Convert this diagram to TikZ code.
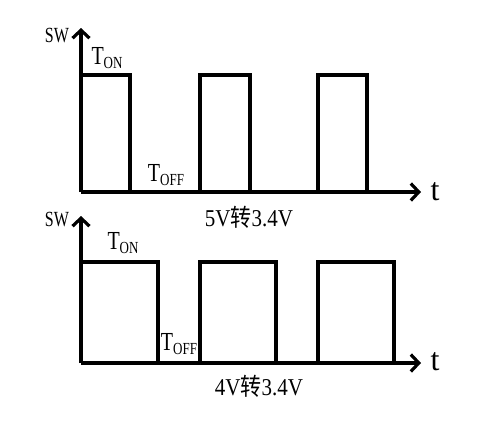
\documentclass[tikz,border=0pt]{standalone}
\usepackage{fontspec}
\setmainfont{Liberation Serif}
\newfontfamily\cjk{Noto Sans CJK SC}
\usetikzlibrary{arrows.meta}
\newcommand{\tall}[2][1.3]{\scalebox{1}[#1]{#2}}
\newcommand{\tlab}[1]{\tall{{\fontsize{20}{20}\selectfont T}{\fontsize{13}{13}\selectfont\raisebox{-3pt}{#1}}}}
\begin{document}
\begin{tikzpicture}[x=1pt,y=-1pt,
  wave/.style={line width=3.4pt,line join=miter},
  axis/.style={line width=3.4pt,-{Straight Barb[length=8pt,width=17pt,line width=3.2pt]}},
  lab/.style={inner sep=0pt},
  captxt/.style={inner sep=0pt,font=\fontsize{21}{22}\selectfont}]
  \useasboundingbox (0,0) rectangle (493,421);
  % arriba: 5V -> 3.4V
  \draw[wave] (81,75) -- (130,75) -- (130,192);
  \draw[wave] (200,192) -- (200,75) -- (250,75) -- (250,192);
  \draw[wave] (318,192) -- (318,75) -- (367,75) -- (367,192);
  \draw[axis] (81,192) -- (81,28);
  \draw[axis] (81,192) -- (421,192);
  \node[lab,font=\fontsize{16}{16}\selectfont] (sw1) at (57,36) {\tall[1.35]{SW}};
  \node[lab] (ton1) at (107,58) {\tlab{ON}};
  \node[lab] (toff1) at (166,175) {\tlab{OFF}};
  \node[lab,font=\fontsize{32}{32}\selectfont] (t1) at (435,192) {t};
  \node[captxt] (cap1) at (249,217) {\tall[1.15]{5V{\cjk 转}3.4V}};
  % abajo: 4V -> 3.4V
  \draw[wave] (81,262) -- (158,262) -- (158,363);
  \draw[wave] (200,363) -- (200,262) -- (276,262) -- (276,363);
  \draw[wave] (318,363) -- (318,262) -- (394,262) -- (394,363);
  \draw[axis] (81,363) -- (81,216);
  \draw[axis] (81,363) -- (421,363);
  \node[lab,font=\fontsize{16}{16}\selectfont] (sw2) at (57,220) {\tall[1.35]{SW}};
  \node[lab] (ton2) at (123,243) {\tlab{ON}};
  \node[lab] (toff2) at (179,344) {\tlab{OFF}};
  \node[lab,font=\fontsize{32}{32}\selectfont] (t2) at (435,362) {t};
  \node[captxt] (cap2) at (259,386) {\tall[1.15]{4V{\cjk 转}3.4V}};
\end{tikzpicture}
\end{document}
